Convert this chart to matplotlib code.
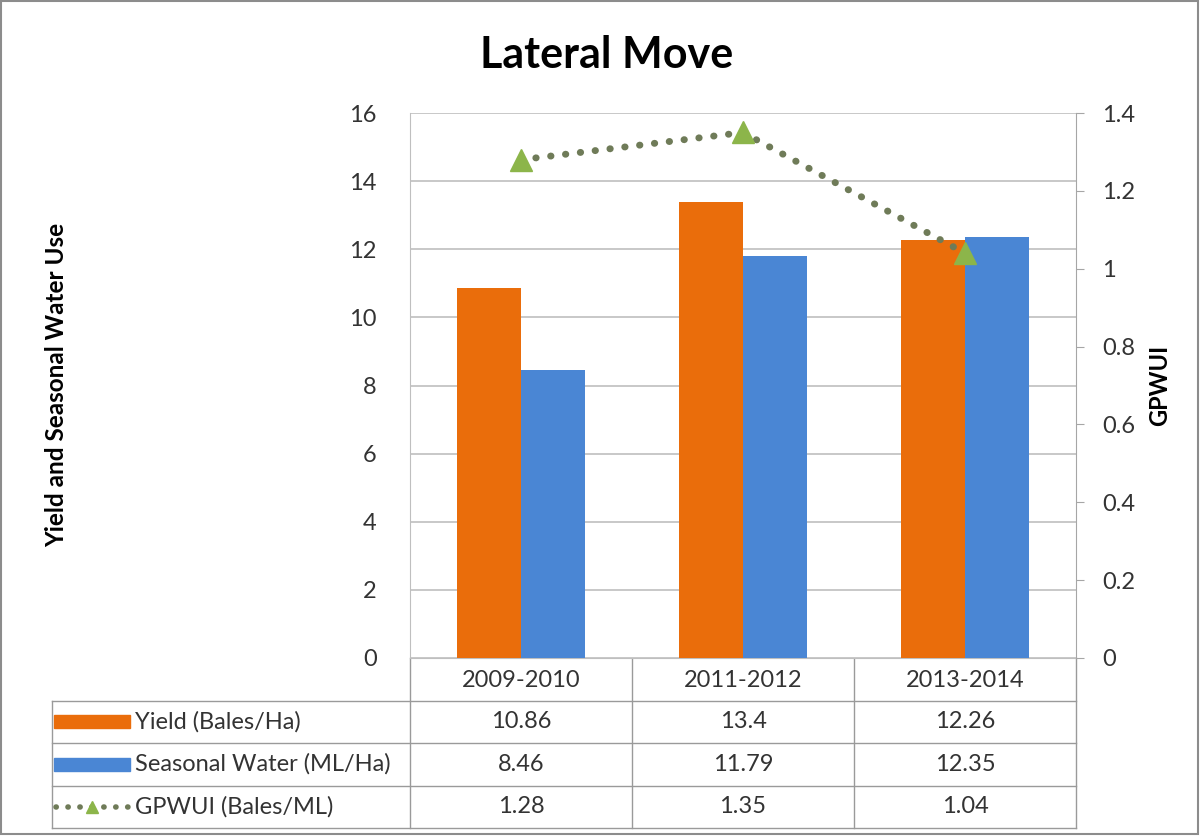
import matplotlib.pyplot as plt
from matplotlib.patches import Rectangle

# data
periods = ['2009-2010', '2011-2012', '2013-2014']
yield_vals = [10.86, 13.4, 12.26]
water_vals = [8.46, 11.79, 12.35]
gpwui_vals = [1.28, 1.35, 1.04]
series_names = ['Yield (Bales/Ha)', 'Seasonal Water (ML/Ha)', 'GPWUI (Bales/ML)']

orange = '#EA6D0B'
blue = '#4A86D4'
green_dot = '#6F7B58'
green_tri = '#8CB54A'
grid_c = '#BFBFBF'
txt_c = '#333333'
fs = 17

plt.rcParams['font.family'] = ['Lato', 'DejaVu Sans']

W, H = 1200, 836
fig = plt.figure(figsize=(12, 8.36), dpi=100)

# pixel box of plot area
px_l, px_r, px_t, px_b = 410, 1076, 113, 658
ax = fig.add_axes([px_l / W, 1 - px_b / H, (px_r - px_l) / W, (px_b - px_t) / H])

x = list(range(len(periods)))
bw = 0.29
ax.bar([i - bw / 2 for i in x], yield_vals, bw, color=orange, zorder=3)
ax.bar([i + bw / 2 for i in x], water_vals, bw, color=blue, zorder=3)
ax.set_xlim(-0.5, len(periods) - 0.5)
ax.set_ylim(0, 16)
ax.set_yticks(range(0, 17, 2))
ax.set_xticks([])
ax.grid(axis='y', color=grid_c, lw=1.2, zorder=0)
for s in ['top', 'right']:
    ax.spines[s].set_visible(False)
ax.spines['left'].set_color(grid_c)
ax.spines['bottom'].set_color(grid_c)
ax.tick_params(axis='y', length=0, labelsize=fs, labelcolor=txt_c, pad=24)

ax2 = ax.twinx()
ax2.plot(x, gpwui_vals, ls=(0, (0.05, 2.1)), lw=5, color=green_dot,
         dash_capstyle='round', zorder=4)
ax2.plot(x, gpwui_vals, ls='none', marker='^', ms=16, color=green_tri, zorder=5)
ax2.set_ylim(0, 1.4)
ax2.set_yticks([0, 0.2, 0.4, 0.6, 0.8, 1, 1.2, 1.4])
ax2.set_yticklabels(['0', '0.2', '0.4', '0.6', '0.8', '1', '1.2', '1.4'])
for s in ['top', 'left', 'bottom']:
    ax2.spines[s].set_visible(False)
ax2.spines['right'].set_color('#A6A6A6')
ax2.tick_params(axis='y', length=6, color='#A6A6A6', labelsize=fs, labelcolor=txt_c, pad=13)

fig.text(57 / W, 1 - 385 / H, 'Yield and Seasonal Water Use', rotation=90,
         ha='center', va='center', fontsize=17.5, fontweight='bold')
fig.text(1160 / W, 1 - 385 / H, 'GPWUI', rotation=90,
         ha='center', va='center', fontsize=17, fontweight='bold')
fig.text(607 / W, 1 - 55 / H, 'Lateral Move', ha='center', va='center',
         fontsize=31, fontweight='bold', color='black')

# data table in pixel coordinates
ov = fig.add_axes([0, 0, 1, 1], zorder=-1)
ov.set_xlim(0, W)
ov.set_ylim(H, 0)
ov.axis('off')
line_c = '#9A9A9A'
col_w = (px_r - px_l) / len(periods)
row_h = 42.5
tab_l = 52
rows_y = [px_b + row_h * k for k in range(len(series_names) + 2)]
for k in range(len(periods) + 1):
    xx = px_l + k * col_w
    ov.plot([xx, xx], [px_b, rows_y[-1]], color=line_c, lw=1)
ov.plot([tab_l, tab_l], [rows_y[1], rows_y[-1]], color=line_c, lw=1)
for k in range(1, len(rows_y)):
    ov.plot([tab_l, px_r], [rows_y[k], rows_y[k]], color=line_c, lw=1)
for j, p in enumerate(periods):
    ov.text(px_l + (j + 0.5) * col_w, (rows_y[0] + rows_y[1]) / 2 + 1, p,
            ha='center', va='center', fontsize=fs, color=txt_c)
table_vals = [yield_vals, water_vals, gpwui_vals]
for r, (name, vals) in enumerate(zip(series_names, table_vals)):
    yc = (rows_y[r + 1] + rows_y[r + 2]) / 2
    if r < 2:
        ov.add_patch(Rectangle((54, yc - 6.5), 76, 13, color=[orange, blue][r]))
    else:
        ov.plot([56, 128], [yc, yc], ls=(0, (0.05, 2.1)), lw=4, color=green_dot,
                dash_capstyle='round')
        ov.plot([92], [yc], marker='^', ms=9, color=green_tri, ls='none')
    ov.text(135, yc, name, ha='left', va='center', fontsize=fs, color=txt_c)
    for j, v in enumerate(vals):
        ov.text(px_l + (j + 0.5) * col_w, yc, f'{v:g}', ha='center', va='center',
                fontsize=fs, color=txt_c)

# outer frame
ov.add_patch(Rectangle((1, 1), W - 3, H - 3, fill=False, ec='#8C8C8C', lw=1.5))

fig.savefig('out.png', dpi=100)
